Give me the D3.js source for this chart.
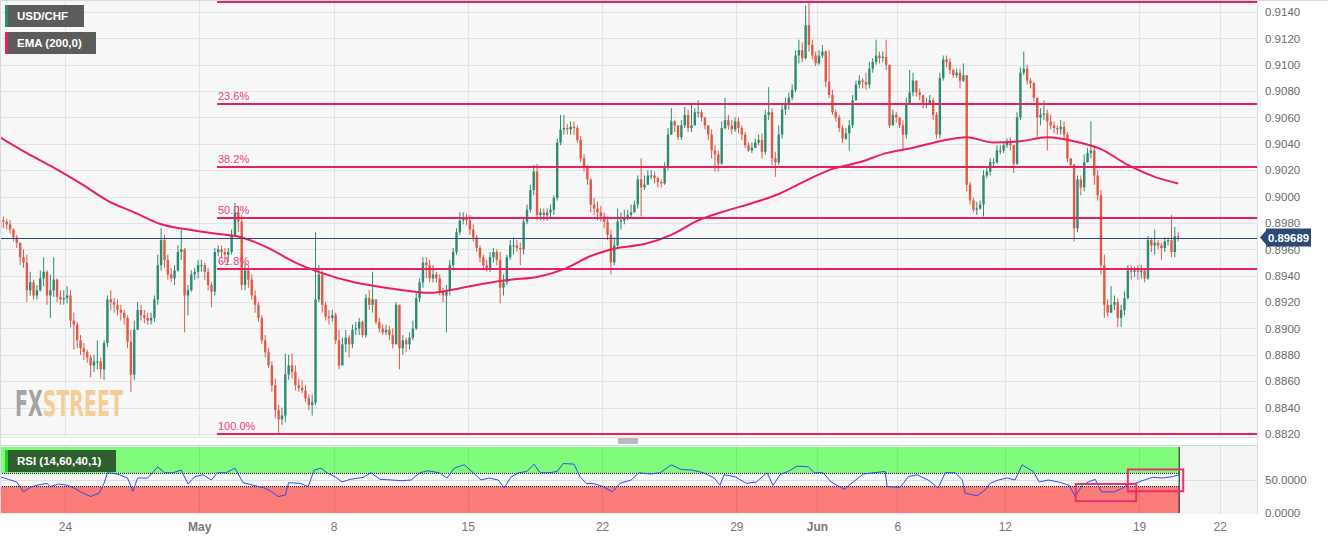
<!DOCTYPE html>
<html><head><meta charset="utf-8">
<script src="https://cdn.jsdelivr.net/npm/d3@7"></script>
<style>
body{margin:0;background:#fff;}
svg{display:block;font-family:"Liberation Sans",Arial,sans-serif;}
</style>
</head><body>
<svg id="chart" width="1328" height="540"></svg>
<script>
// ---------- DATA (USD/CHF, 3-hour candles, trading-day time axis) ----------
const firstCandleDay = -2.42;      // trading days relative to Mon 24 Apr
const candlesPerDay = 8;
const firstOpen = 0.8976;
const candleClose = [
0.8982,0.8981,0.8979,0.8975,0.8969,0.8965,0.8954,0.8950,0.8929,0.8935,
0.8925,0.8929,0.8938,0.8943,0.8925,0.8929,0.8937,0.8924,0.8922,0.8923,
0.8925,0.8906,0.8903,0.8891,0.8885,0.8882,0.8878,0.8872,0.8875,0.8875,
0.8869,0.8889,0.8922,0.8920,0.8918,0.8914,0.8912,0.8908,0.8890,0.8865,
0.8899,0.8914,0.8910,0.8908,0.8906,0.8908,0.8922,0.8948,0.8967,0.8952,
0.8941,0.8938,0.8944,0.8958,0.8960,0.8925,0.8929,0.8941,0.8943,0.8948,
0.8948,0.8943,0.8933,0.8928,0.8958,0.8960,0.8958,0.8956,0.8958,0.8971,
0.8988,0.8981,0.8933,0.8944,0.8937,0.8925,0.8918,0.8908,0.8891,0.8882,
0.8872,0.8857,0.8838,0.8831,0.8834,0.8865,0.8872,0.8867,0.8857,0.8855,
0.8853,0.8847,0.8842,0.8844,0.8922,0.8941,0.8918,0.8909,0.8908,0.8910,
0.8891,0.8872,0.8888,0.8893,0.8888,0.8899,0.8900,0.8905,0.8895,0.8923,
0.8918,0.8922,0.8905,0.8900,0.8897,0.8899,0.8895,0.8888,0.8918,0.8885,
0.8891,0.8888,0.8893,0.8900,0.8923,0.8935,0.8950,0.8948,0.8938,0.8941,
0.8938,0.8928,0.8925,0.8929,0.8948,0.8958,0.8973,0.8982,0.8984,0.8982,
0.8975,0.8969,0.8961,0.8954,0.8948,0.8946,0.8954,0.8958,0.8952,0.8931,
0.8935,0.8954,0.8963,0.8963,0.8961,0.8960,0.8981,0.8990,0.9005,0.9019,
0.8986,0.8988,0.8986,0.8988,0.8990,0.8999,0.9041,0.9051,0.9052,0.9051,
0.9053,0.9052,0.9043,0.9029,0.9022,0.9013,0.8994,0.8991,0.8988,0.8985,
0.8981,0.8971,0.8950,0.8963,0.8981,0.8982,0.8984,0.8986,0.8988,0.8994,
0.9013,0.9007,0.9009,0.9016,0.9016,0.9014,0.9011,0.9010,0.9022,0.9047,
0.9057,0.9054,0.9045,0.9054,0.9062,0.9052,0.9054,0.9064,0.9064,0.9060,
0.9054,0.9047,0.9035,0.9032,0.9025,0.9052,0.9058,0.9054,0.9051,0.9057,
0.9052,0.9047,0.9039,0.9035,0.9037,0.9041,0.9043,0.9034,0.9062,0.9064,
0.9029,0.9026,0.9047,0.9066,0.9070,0.9075,0.9081,0.9107,0.9111,0.9105,
0.9130,0.9115,0.9107,0.9101,0.9107,0.9110,0.9087,0.9077,0.9064,0.9060,
0.9052,0.9044,0.9048,0.9054,0.9073,0.9085,0.9088,0.9087,0.9085,0.9097,
0.9102,0.9107,0.9105,0.9106,0.9100,0.9054,0.9062,0.9060,0.9054,0.9047,
0.9070,0.9079,0.9088,0.9079,0.9077,0.9071,0.9071,0.9073,0.9062,0.9047,
0.9090,0.9104,0.9102,0.9096,0.9092,0.9094,0.9088,0.9092,0.9009,0.8997,
0.8990,0.8991,0.8994,0.9016,0.9019,0.9026,0.9026,0.9035,0.9035,0.9039,
0.9041,0.9039,0.9025,0.9060,0.9094,0.9097,0.9088,0.9086,0.9075,0.9060,
0.9062,0.9063,0.9057,0.9054,0.9052,0.9051,0.9053,0.9047,0.9029,0.9024,
0.8976,0.9013,0.9007,0.9026,0.9033,0.9035,0.9016,0.9001,0.8948,0.8918,
0.8912,0.8918,0.8920,0.8908,0.8914,0.8923,0.8944,0.8943,0.8944,0.8943,
0.8944,0.8938,0.8967,0.8963,0.8965,0.8963,0.8961,0.8966,0.8967,0.8958,
0.8970,0.89689];
const candleHigh = [
0.8986,0.8985,0.8983,0.8982,0.8976,0.8971,0.8965,0.8960,0.8956,0.8943,
0.8937,0.8933,0.8944,0.8954,0.8944,0.8941,0.8954,0.8938,0.8929,0.8929,
0.8932,0.8929,0.8912,0.8905,0.8895,0.8889,0.8884,0.8880,0.8880,0.8891,
0.8878,0.8891,0.8925,0.8929,0.8923,0.8922,0.8918,0.8914,0.8910,0.8899,
0.8906,0.8920,0.8918,0.8914,0.8912,0.8912,0.8925,0.8956,0.8976,0.8971,
0.8956,0.8946,0.8948,0.8963,0.8975,0.8961,0.8933,0.8944,0.8946,0.8952,
0.8952,0.8950,0.8946,0.8935,0.8961,0.8963,0.8963,0.8961,0.8961,0.8975,
0.8995,0.8993,0.8986,0.8950,0.8948,0.8941,0.8929,0.8920,0.8910,0.8895,
0.8885,0.8875,0.8862,0.8842,0.8840,0.8881,0.8880,0.8881,0.8872,0.8862,
0.8861,0.8857,0.8850,0.8850,0.8973,0.8948,0.8944,0.8920,0.8914,0.8914,
0.8912,0.8899,0.8893,0.8899,0.8895,0.8903,0.8905,0.8908,0.8906,0.8926,
0.8929,0.8943,0.8922,0.8908,0.8903,0.8903,0.8902,0.8900,0.8920,0.8918,
0.8895,0.8893,0.8897,0.8906,0.8927,0.8938,0.8954,0.8954,0.8952,0.8948,
0.8943,0.8941,0.8931,0.8933,0.8952,0.8961,0.8976,0.8988,0.8988,0.8987,
0.8986,0.8979,0.8971,0.8963,0.8956,0.8952,0.8958,0.8961,0.8960,0.8958,
0.8941,0.8956,0.8967,0.8969,0.8967,0.8965,0.8984,0.8994,0.9009,0.9024,
0.9025,0.8991,0.8991,0.8991,0.8994,0.9001,0.9044,0.9062,0.9062,0.9055,
0.9057,0.9057,0.9054,0.9046,0.9032,0.9024,0.9014,0.8999,0.8996,0.8993,
0.8988,0.8985,0.8975,0.8969,0.8991,0.8988,0.8990,0.8990,0.8994,0.8997,
0.9016,0.9029,0.9016,0.9020,0.9020,0.9019,0.9015,0.9013,0.9026,0.9052,
0.9067,0.9058,0.9054,0.9058,0.9068,0.9066,0.9071,0.9067,0.9073,0.9066,
0.9060,0.9054,0.9051,0.9039,0.9035,0.9057,0.9075,0.9062,0.9058,0.9060,
0.9060,0.9054,0.9049,0.9041,0.9041,0.9044,0.9047,0.9048,0.9066,0.9083,
0.9067,0.9034,0.9054,0.9070,0.9075,0.9079,0.9085,0.9111,0.9119,0.9117,
0.9145,0.9148,0.9119,0.9110,0.9111,0.9115,0.9111,0.9111,0.9081,0.9066,
0.9062,0.9054,0.9052,0.9058,0.9077,0.9088,0.9092,0.9090,0.9094,0.9102,
0.9105,0.9119,0.9110,0.9110,0.9119,0.9097,0.9066,0.9064,0.9060,0.9058,
0.9075,0.9096,0.9094,0.9087,0.9082,0.9077,0.9075,0.9077,0.9075,0.9064,
0.9094,0.9107,0.9107,0.9105,0.9097,0.9097,0.9097,0.9101,0.9092,0.9011,
0.8999,0.8996,0.8997,0.9020,0.9022,0.9029,0.9029,0.9039,0.9039,0.9041,
0.9044,0.9045,0.9039,0.9064,0.9098,0.9110,0.9100,0.9090,0.9087,0.9075,
0.9067,0.9073,0.9066,0.9062,0.9057,0.9054,0.9058,0.9057,0.9049,0.9029,
0.9025,0.9016,0.9016,0.9032,0.9037,0.9057,0.9039,0.9020,0.9005,0.8956,
0.8922,0.8932,0.8925,0.8923,0.8918,0.8928,0.8948,0.8948,0.8947,0.8948,
0.8948,0.8946,0.8970,0.8969,0.8975,0.8967,0.8965,0.8969,0.8969,0.8986,
0.8977,0.8973];
const candleLow = [
0.8973,0.8976,0.8975,0.8972,0.8966,0.8961,0.8948,0.8946,0.8920,0.8925,
0.8922,0.8922,0.8928,0.8932,0.8918,0.8908,0.8924,0.8920,0.8918,0.8918,
0.8919,0.8901,0.8884,0.8885,0.8880,0.8876,0.8874,0.8863,0.8867,0.8869,
0.8862,0.8861,0.8886,0.8914,0.8912,0.8910,0.8906,0.8903,0.8885,0.8852,
0.8861,0.8899,0.8906,0.8904,0.8903,0.8903,0.8905,0.8918,0.8944,0.8946,
0.8937,0.8935,0.8933,0.8943,0.8952,0.8897,0.8910,0.8928,0.8937,0.8938,
0.8943,0.8937,0.8929,0.8916,0.8925,0.8955,0.8954,0.8950,0.8950,0.8956,
0.8971,0.8973,0.8929,0.8929,0.8931,0.8922,0.8912,0.8905,0.8888,0.8878,
0.8870,0.8852,0.8832,0.8821,0.8827,0.8829,0.8861,0.8862,0.8853,0.8852,
0.8851,0.8844,0.8838,0.8834,0.8842,0.8920,0.8912,0.8906,0.8903,0.8905,
0.8888,0.8869,0.8872,0.8882,0.8878,0.8885,0.8895,0.8895,0.8893,0.8893,
0.8914,0.8912,0.8903,0.8897,0.8895,0.8895,0.8891,0.8885,0.8888,0.8869,
0.8880,0.8882,0.8884,0.8891,0.8899,0.8920,0.8931,0.8938,0.8935,0.8935,
0.8935,0.8925,0.8920,0.8897,0.8925,0.8944,0.8956,0.8971,0.8979,0.8978,
0.8971,0.8966,0.8958,0.8950,0.8944,0.8943,0.8943,0.8950,0.8948,0.8919,
0.8925,0.8933,0.8952,0.8956,0.8958,0.8948,0.8956,0.8979,0.8988,0.9001,
0.8982,0.8982,0.8982,0.8982,0.8984,0.8986,0.8997,0.9039,0.9047,0.9047,
0.9047,0.9047,0.9041,0.9026,0.9019,0.9009,0.8988,0.8986,0.8982,0.8981,
0.8976,0.8967,0.8941,0.8948,0.8961,0.8975,0.8979,0.8982,0.8984,0.8988,
0.8991,0.8985,0.9005,0.9011,0.9013,0.9010,0.9007,0.9007,0.9009,0.9020,
0.9047,0.9049,0.9043,0.9043,0.9052,0.9049,0.9049,0.9057,0.9060,0.9057,
0.9051,0.9043,0.9029,0.9019,0.9019,0.9024,0.9051,0.9051,0.9047,0.9049,
0.9048,0.9043,0.9037,0.9034,0.9033,0.9037,0.9039,0.9029,0.9032,0.9058,
0.9024,0.9015,0.9024,0.9044,0.9062,0.9066,0.9073,0.9079,0.9101,0.9102,
0.9104,0.9110,0.9104,0.9099,0.9100,0.9105,0.9083,0.9075,0.9062,0.9057,
0.9049,0.9041,0.9043,0.9035,0.9052,0.9073,0.9082,0.9082,0.9081,0.9082,
0.9094,0.9100,0.9101,0.9102,0.9096,0.9052,0.9054,0.9056,0.9052,0.9035,
0.9044,0.9070,0.9076,0.9076,0.9073,0.9067,0.9067,0.9070,0.9058,0.9044,
0.9044,0.9088,0.9098,0.9093,0.9090,0.9090,0.9082,0.9087,0.9004,0.8994,
0.8988,0.8986,0.8990,0.8985,0.9014,0.9016,0.9022,0.9025,0.9032,0.9033,
0.9037,0.9035,0.9018,0.9024,0.9058,0.9092,0.9085,0.9082,0.9072,0.9044,
0.9054,0.9058,0.9035,0.9051,0.9048,0.9047,0.9047,0.9043,0.9026,0.9022,
0.8966,0.8973,0.9001,0.9004,0.9028,0.9029,0.9009,0.8997,0.8941,0.8908,
0.8909,0.8912,0.8914,0.8901,0.8901,0.8910,0.8922,0.8937,0.8939,0.8937,
0.8938,0.8935,0.8937,0.8958,0.8956,0.8960,0.8952,0.8958,0.8963,0.8954,
0.8954,0.8966];

// EMA(200), at candle indices
const emaAt = [0,8,16,24,32,40,48,56,64,72,80,88,96,104,112,120,128,136,144,152,160,168,176,184,192,200,208,216,224,232,240,248,256,264,272,280,288,296,304,312,320,328,336,344,351];
const emaValue = [0.9045,0.9033,0.9022,0.9010,0.8997,0.8988,0.8979,0.8975,0.8972,0.8969,0.8961,0.8950,0.8942,0.8936,0.8932,0.8929,0.8927,0.8930,0.8934,0.8937,0.8939,0.8945,0.8955,0.8961,0.8964,0.8971,0.8982,0.8989,0.8995,0.9002,0.9012,0.9021,0.9026,0.9033,0.9037,0.9042,0.9045,0.9041,0.9042,0.9045,0.9042,0.9036,0.9024,0.9015,0.9010];

// RSI(14), at candle indices
const rsiAt = [0,2.5,5,7,9,11,14,15,17.5,20,22,24,27,29.5,31,32,35,38,39.6,41,44,47,49,51.5,54,56,58,60.5,63,64.7,67.3,70,72.4,75.4,78.7,81,82.8,85,86,89.4,91.8,93.6,95.6,97.4,99.8,101.9,104.3,108.2,110.5,113.2,116.8,119.5,122.5,125.1,127.5,130.8,133.2,135.3,138.3,141,143.3,145.7,148.4,150.2,152.3,154.6,157,159.1,160.9,163.6,166,167.8,171,172.8,174.6,177.3,179.7,182.4,184.7,188,190.4,193.7,196.7,200,202.9,206.2,209.5,212.8,214.5,215.7,219,222.3,225.3,228.5,230.3,232.4,234.8,237.5,240.8,242.6,245.2,247.6,251.5,254.2,257.2,260.4,263.7,264.3,268.2,270.6,273.2,276.5,279.5,281.6,284.6,286.7,287.5,291.1,293.5,295,297.4,300.1,302.4,304.5,307.8,309.6,312.3,315.3,318.5,320.3,322.4,324.2,326.3,328.1,332,334.6,336.4,338.2,340.9,343.3,346.5,349.2,351.3];
const rsiValue = [55,51,47,32,39,42,45,40,44,42,38,32,25,30,45,61,59,53,33,53,53,70,61,61,65,44,55,58,50,61,61,68,46,42,38,32,25,27,46,45,40,65,68,61,55,47,51,54,61,51,50,49,50,61,64,61,53,68,73,61,50,53,50,38,55,61,63,74,61,61,63,75,74,55,45,44,40,32,45,50,61,59,61,73,66,65,61,53,42,58,55,45,47,61,42,58,63,71,70,61,61,47,36,47,59,61,63,40,39,55,58,50,38,61,61,50,30,26,35,45,50,53,50,73,63,47,50,47,42,25,42,47,51,32,32,38,45,45,50,54,53,55,58];
const rsiUpper = 60, rsiLower = 40;

// Axis ticks
const xTickDays = [0,5,10,15,20,25,28,31,35,40,43];
const xTickLabels = ["24","May","8","15","22","29","Jun","6","12","19","22"];
const boldTickLabels = ["May","Jun"];
const viewDays = [-2.42, 44.39];
const priceView = [0.88177, 0.91491];
const priceTicks = [0.8820,0.8840,0.8860,0.8880,0.8900,0.8920,0.8940,0.8960,0.8980,0.9000,0.9020,0.9040,0.9060,0.9080,0.9100,0.9120,0.9140];
const rsiTicks = [0, 50];

// Fibonacci retracement
const fibHigh = 0.91476, fibLow = 0.8820, fibStartDay = 5.66;
const fibRatios = [0, 0.236, 0.382, 0.5, 0.618, 1];
const fibLabels = ["", "23.6%", "38.2%", "50.0%", "61.8%", "100.0%"];
const lastPrice = 0.89689;

// ---------- LAYOUT / STYLE ----------
const W = 1328, plotRight = 1257, mainTop = 0, mainBottom = 437, rsiTop = 446, rsiBottom = 514;
const UP = "#2e8b72", DOWN = "#e05a48", PINK = "#e91e63", NAVY = "#2c4a74";
const svg = d3.select("#chart");

const x = d3.scaleLinear().domain(viewDays).range([0, plotRight]);
const y = d3.scaleLinear().domain(priceView).range([mainBottom, mainTop]);
const yr = d3.scaleLinear().domain([0, 100]).range([513, 447]);
const dayOf = i => firstCandleDay + i / candlesPerDay;

const candles = candleClose.map((c, i) => ({
  i, c, o: i === 0 ? firstOpen : candleClose[i - 1], h: candleHigh[i], l: candleLow[i]
}));

// clip paths + logo gradient
const defs = svg.append("defs");
defs.append("clipPath").attr("id", "clipMain").append("rect")
  .attr("x", 0).attr("y", mainTop).attr("width", plotRight).attr("height", mainBottom - mainTop);
defs.append("clipPath").attr("id", "clipRsi").append("rect")
  .attr("x", 0).attr("y", rsiTop).attr("width", plotRight).attr("height", rsiBottom - rsiTop);
const lg = defs.append("linearGradient").attr("id", "logoGrad")
  .attr("gradientUnits", "userSpaceOnUse").attr("x1", 15).attr("x2", 124).attr("y1", 0).attr("y2", 0);
lg.append("stop").attr("offset", 0.245).attr("stop-color", "#a3a3a3");
lg.append("stop").attr("offset", 0.245).attr("stop-color", "#f2cd98");

// backgrounds
svg.append("rect").attr("x", 0).attr("y", mainTop).attr("width", plotRight).attr("height", mainBottom - mainTop).attr("fill", "#f7f7f7");
svg.append("rect").attr("x", 0).attr("y", rsiTop).attr("width", plotRight).attr("height", rsiBottom - rsiTop).attr("fill", "#f4f4f4");

// ---- main grid
const gMain = svg.append("g").attr("clip-path", "url(#clipMain)");
gMain.selectAll("line.hg").data(priceTicks).join("line")
  .attr("x1", 0).attr("x2", plotRight).attr("y1", d => Math.round(y(d)) + 0.5).attr("y2", d => Math.round(y(d)) + 0.5)
  .attr("stroke", "#e3e3e3").attr("stroke-width", 1);
gMain.selectAll("line.vg").data(xTickDays).join("line")
  .attr("x1", d => Math.round(x(d)) + 0.5).attr("x2", d => Math.round(x(d)) + 0.5).attr("y1", mainTop).attr("y2", mainBottom)
  .attr("stroke", "#e3e3e3").attr("stroke-width", 1);

// FXSTREET logo (single text, two-tone fill)
svg.append("text").attr("x", 15).attr("y", 416)
  .attr("font-family", "'DejaVu Sans Condensed','Liberation Sans Narrow','Liberation Sans',sans-serif")
  .attr("font-weight", "bold").attr("font-size", 35).attr("fill", "url(#logoGrad)")
  .attr("textLength", 108).attr("lengthAdjust", "spacingAndGlyphs").text("FXSTREET");

// ---- candles
const bodyW = 2.4;
const gC = gMain.append("g");
gC.selectAll("line.wick").data(candles).join("line")
  .attr("x1", d => x(dayOf(d.i))).attr("x2", d => x(dayOf(d.i)))
  .attr("y1", d => y(Math.max(d.h, d.o, d.c))).attr("y2", d => y(Math.min(d.l, d.o, d.c)))
  .attr("stroke", d => d.c >= d.o ? UP : DOWN).attr("stroke-width", 1);
gC.selectAll("rect.body").data(candles).join("rect")
  .attr("x", d => x(dayOf(d.i)) - bodyW / 2).attr("width", bodyW)
  .attr("y", d => y(Math.max(d.o, d.c)))
  .attr("height", d => Math.max(1, Math.abs(y(d.o) - y(d.c))))
  .attr("fill", d => d.c >= d.o ? UP : DOWN);

// ---- EMA
const emaPts = emaAt.map((i, k) => ({ i, v: emaValue[k] }));
gMain.append("path").datum(emaPts)
  .attr("d", d3.line().x(d => x(dayOf(d.i))).y(d => y(d.v)).curve(d3.curveMonotoneX))
  .attr("fill", "none").attr("stroke", PINK).attr("stroke-width", 2);

// ---- Fibonacci lines
const fibs = fibRatios.map((r, k) => ({ r, p: fibHigh - r * (fibHigh - fibLow), label: fibLabels[k] }));
gMain.selectAll("line.fib").data(fibs).join("line")
  .attr("x1", x(fibStartDay)).attr("x2", plotRight)
  .attr("y1", d => y(d.p)).attr("y2", d => y(d.p))
  .attr("stroke", PINK).attr("stroke-width", 2);
gMain.selectAll("text.fib").data(fibs.filter(d => d.label)).join("text")
  .attr("x", x(fibStartDay) + 1).attr("y", d => y(d.p) - 4)
  .attr("font-size", 11).attr("fill", "#ec407a").text(d => d.label);

// ---- last price line
gMain.append("line").attr("x1", 0).attr("x2", plotRight)
  .attr("y1", Math.round(y(lastPrice)) + 0.5).attr("y2", Math.round(y(lastPrice)) + 0.5)
  .attr("stroke", NAVY).attr("stroke-width", 1);

// ---- legends
function legend(yTop, w, bar, label, fill) {
  const g = svg.append("g");
  g.append("rect").attr("x", 5).attr("y", yTop).attr("width", w).attr("height", 22).attr("fill", fill);
  g.append("rect").attr("x", 5).attr("y", yTop).attr("width", 3).attr("height", 22).attr("fill", bar);
  g.append("text").attr("x", 17).attr("y", yTop + 15).attr("fill", "#fff")
    .attr("font-size", 11.5).attr("font-weight", "bold").text(label);
}
legend(5, 79, "#2e8b72", "USD/CHF", "#5c5c5c");
legend(32, 91, PINK, "EMA (200,0)", "#5c5c5c");

// ---- panel separator
svg.append("line").attr("x1", 0).attr("x2", plotRight).attr("y1", 437.5).attr("y2", 437.5).attr("stroke", "#e6e6e6");
svg.append("line").attr("x1", 0).attr("x2", plotRight).attr("y1", 445.5).attr("y2", 445.5).attr("stroke", "#cfd6e3");
[439.5, 441.5, 443.5].forEach(v => svg.append("line").attr("x1", 618).attr("x2", 638).attr("y1", v - 0.5).attr("y2", v - 0.5).attr("stroke", "#777"));

// ---- RSI panel
const gR = svg.append("g").attr("clip-path", "url(#clipRsi)");
const rsiEnd = x(dayOf(rsiAt[rsiAt.length - 1]));
gR.append("rect").attr("x", 0).attr("width", rsiEnd).attr("y", yr(100)).attr("height", yr(rsiUpper) - yr(100)).attr("fill", "#80fb7c");
gR.append("rect").attr("x", 0).attr("width", rsiEnd).attr("y", yr(rsiUpper)).attr("height", yr(rsiLower) - yr(rsiUpper)).attr("fill", "#f7f7f7");
gR.append("rect").attr("x", 0).attr("width", rsiEnd).attr("y", yr(rsiLower)).attr("height", yr(0) - yr(rsiLower)).attr("fill", "#fa7b78");
gR.selectAll("line.rg").data([50]).join("line")
  .attr("x1", 0).attr("x2", plotRight).attr("y1", d => Math.round(yr(d)) + 0.5).attr("y2", d => Math.round(yr(d)) + 0.5)
  .attr("stroke", "#e0e0e0");
gR.selectAll("line.rvg").data(xTickDays).join("line")
  .attr("x1", d => Math.round(x(d)) + 0.5).attr("x2", d => Math.round(x(d)) + 0.5).attr("y1", rsiTop).attr("y2", rsiBottom)
  .attr("stroke", "rgba(0,0,0,0.07)");
[rsiUpper, rsiLower].forEach(v => gR.append("line").attr("x1", 0).attr("x2", rsiEnd)
  .attr("y1", yr(v)).attr("y2", yr(v)).attr("stroke", "#111").attr("stroke-width", 1).attr("stroke-dasharray", "1,1"));
gR.append("line").attr("x1", rsiEnd).attr("x2", rsiEnd).attr("y1", yr(100)).attr("y2", yr(0)).attr("stroke", "#111");
gR.append("line").attr("x1", 0.5).attr("x2", 0.5).attr("y1", yr(rsiLower)).attr("y2", yr(0)).attr("stroke", "#333");
const rsiPts = rsiAt.map((i, k) => ({ i, v: rsiValue[k] }));
gR.append("path").datum(rsiPts)
  .attr("d", d3.line().x(d => x(dayOf(d.i))).y(d => yr(d.v)))
  .attr("fill", "none").attr("stroke", "#2952e8").attr("stroke-width", 1);

// annotation boxes on RSI (in candle index / RSI units)
const rsiBoxes = [{ i0: 320.5, i1: 338.5, r0: 18, r1: 44 }, { i0: 336, i1: 352.5, r0: 33, r1: 66 }];
svg.selectAll("rect.ann").data(rsiBoxes).join("rect")
  .attr("x", d => x(dayOf(d.i0))).attr("width", d => x(dayOf(d.i1)) - x(dayOf(d.i0)))
  .attr("y", d => yr(d.r1)).attr("height", d => yr(d.r0) - yr(d.r1))
  .attr("fill", "none").attr("stroke", "#e5336d").attr("stroke-width", 2);

// RSI legend
svg.append("rect").attr("x", 5).attr("y", 450).attr("width", 111).attr("height", 22).attr("fill", "#2f5f2f");
svg.append("rect").attr("x", 5).attr("y", 450).attr("width", 3).attr("height", 22).attr("fill", "#1fd21f");
svg.append("text").attr("x", 17).attr("y", 465).attr("fill", "#fff").attr("font-size", 11.5).attr("font-weight", "bold").text("RSI (14,60,40,1)");

// ---- right axis area
svg.append("rect").attr("x", plotRight).attr("y", 0).attr("width", W - plotRight).attr("height", 540).attr("fill", "#fff");
svg.append("line").attr("x1", plotRight + 0.5).attr("x2", plotRight + 0.5).attr("y1", 0).attr("y2", rsiBottom).attr("stroke", "#d6dbe5");
svg.append("line").attr("x1", 0).attr("x2", W).attr("y1", 0.5).attr("y2", 0.5).attr("stroke", "#d6dbe5");
svg.append("line").attr("x1", 0.5).attr("x2", 0.5).attr("y1", 0).attr("y2", rsiBottom).attr("stroke", "#d6dbe5");

const styleAxis = g => {
  g.select(".domain").remove();
  g.selectAll(".tick line").remove();
  g.selectAll("text").attr("fill", "#6b6b6b").attr("font-size", 11.5)
    .attr("font-family", "'Liberation Sans',Arial,sans-serif");
};
svg.append("g").attr("transform", `translate(${plotRight},0)`)
  .call(d3.axisRight(y).tickValues(priceTicks).tickFormat(d3.format(".4f")).tickSize(0).tickPadding(8))
  .call(styleAxis);
svg.append("g").attr("transform", `translate(${plotRight},0)`)
  .call(d3.axisRight(yr).tickValues(rsiTicks).tickFormat(d3.format(".4f")).tickSize(0).tickPadding(8))
  .call(styleAxis);
svg.append("g").attr("transform", `translate(0,${rsiBottom})`)
  .call(d3.axisBottom(x).tickValues(xTickDays).tickFormat((d, k) => xTickLabels[k]).tickSize(0).tickPadding(8))
  .call(styleAxis)
  .call(g => g.selectAll("text").attr("font-size", 12).attr("fill", "#777")
    .attr("font-weight", d => boldTickLabels.includes(xTickLabels[xTickDays.indexOf(d)]) ? "bold" : "normal"));

// last price tag
const py = y(lastPrice);
const tag = svg.append("g");
tag.append("path")
  .attr("d", `M${plotRight + 3},${py} L${plotRight + 9},${py - 7} L${plotRight + 9},${py - 9} L${plotRight + 54},${py - 9} L${plotRight + 54},${py + 9} L${plotRight + 9},${py + 9} L${plotRight + 9},${py + 7} Z`)
  .attr("fill", NAVY);
tag.append("text").attr("x", plotRight + 31.5).attr("y", py + 4.2).attr("fill", "#fff")
  .attr("text-anchor", "middle").attr("font-size", 11.5).attr("font-weight", "bold")
  .attr("textLength", 41).attr("lengthAdjust", "spacingAndGlyphs")
  .text(d3.format(".5f")(lastPrice));
</script>
</body></html>
